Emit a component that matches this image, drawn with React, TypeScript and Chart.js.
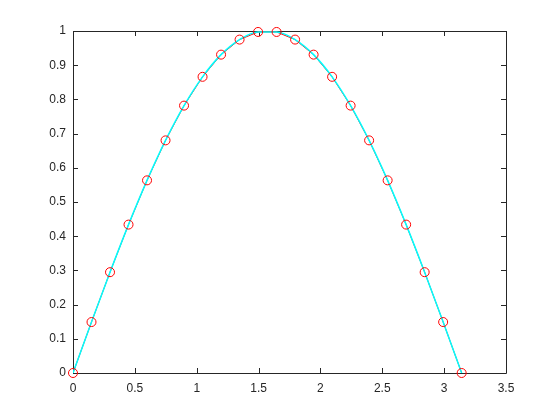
import React, { useEffect, useRef } from "react";
import { Chart, registerables } from "chart.js";

Chart.register(...registerables);

const xValues = [0, 0.1496, 0.2992, 0.4488, 0.5984, 0.748, 0.8976, 1.0472, 1.1968, 1.3464, 1.496, 1.6456, 1.7952, 1.9448, 2.0944, 2.244, 2.3936, 2.5432, 2.6928, 2.8424, 2.992, 3.1416];
const yValues = [0, 0.149, 0.2948, 0.4339, 0.5633, 0.6802, 0.7818, 0.866, 0.9309, 0.9749, 0.9972, 0.9972, 0.9749, 0.9309, 0.866, 0.7818, 0.6802, 0.5633, 0.4339, 0.2948, 0.149, 0];
const xTicks = [0, 0.5, 1, 1.5, 2, 2.5, 3, 3.5];
const yTicks = [0, 0.1, 0.2, 0.3, 0.4, 0.5, 0.6, 0.7, 0.8, 0.9, 1];

const FONT = "Liberation Sans, Arial, Helvetica, sans-serif";
const AXIS_COLOR = "#262626";

const boxPlugin = {
  id: "matlabBox",
  beforeDatasetsDraw(chart: any) {
    const { ctx, chartArea } = chart;
    const { left, right, top, bottom } = chartArea;
    const xs = chart.scales.x;
    const ys = chart.scales.y;
    const tl = 5;
    ctx.save();
    ctx.strokeStyle = AXIS_COLOR;
    ctx.lineWidth = 1;
    ctx.beginPath();
    ctx.rect(Math.round(left) + 0.5, Math.round(top) + 0.5, Math.round(right - left), Math.round(bottom - top));
    for (const v of xTicks) {
      const px = Math.round(xs.getPixelForValue(v)) + 0.5;
      ctx.moveTo(px, bottom);
      ctx.lineTo(px, bottom - tl);
      ctx.moveTo(px, top);
      ctx.lineTo(px, top + tl);
    }
    for (const v of yTicks) {
      const py = Math.round(ys.getPixelForValue(v)) + 0.5;
      ctx.moveTo(left, py);
      ctx.lineTo(left + tl, py);
      ctx.moveTo(right, py);
      ctx.lineTo(right - tl, py);
    }
    ctx.stroke();
    ctx.restore();
  },
};

export default function App() {
  const ref = useRef<HTMLCanvasElement | null>(null);
  useEffect(() => {
    document.body.style.margin = "0";
    const canvas = ref.current;
    if (!canvas) return;
    const pts = xValues.map((x, i) => ({ x, y: yValues[i] }));
    const chart = new Chart(canvas, {
      type: "scatter",
      data: {
        datasets: [
          {
            data: pts,
            showLine: true,
            borderColor: "#ff0000",
            borderWidth: 1,
            tension: 0,
            pointRadius: 0,
            order: 3,
          },
          {
            data: pts,
            showLine: true,
            borderColor: "#00ffff",
            borderWidth: 1.5,
            cubicInterpolationMode: "monotone",
            pointRadius: 0,
            order: 2,
          },
          {
            data: pts,
            showLine: false,
            clip: false,
            pointStyle: "circle",
            pointRadius: 4.5,
            pointBorderColor: "#ff0000",
            pointBackgroundColor: "rgba(0,0,0,0)",
            pointBorderWidth: 1,
            order: 1,
          },
        ],
      },
      options: {
        responsive: false,
        animation: false,
        events: [],
        layout: { padding: { left: 0, top: 31, right: 54, bottom: 0 } },
        plugins: { legend: { display: false }, tooltip: { enabled: false } },
        scales: {
          x: {
            type: "linear",
            min: 0,
            max: 3.5,
            afterFit: (s: any) => { s.height = 47; },
            afterBuildTicks: (s: any) => { s.ticks = xTicks.map((v) => ({ value: v })); },
            grid: { display: false, drawTicks: false },
            border: { display: false },
            ticks: {
              color: AXIS_COLOR,
              font: { family: FONT, size: 12 },
              padding: 8,
              maxRotation: 0,
              autoSkip: false,
              callback: (v: any) => String(v),
            },
          },
          y: {
            type: "linear",
            min: 0,
            max: 1,
            afterFit: (s: any) => { s.width = 73; },
            afterBuildTicks: (s: any) => { s.ticks = yTicks.map((v) => ({ value: v })); },
            grid: { display: false, drawTicks: false },
            border: { display: false },
            ticks: {
              color: AXIS_COLOR,
              font: { family: FONT, size: 12 },
              padding: 7,
              autoSkip: false,
              callback: (v: any) => String(Math.round(v * 10) / 10),
            },
          },
        },
      },
      plugins: [boxPlugin],
    } as any);
    return () => chart.destroy();
  }, []);
  return (
    <div style={{ position: "absolute", left: 0, top: 0, width: 560, height: 420, background: "#fff" }}>
      <canvas ref={ref} width={560} height={420} style={{ display: "block", width: 560, height: 420 }} />
    </div>
  );
}
